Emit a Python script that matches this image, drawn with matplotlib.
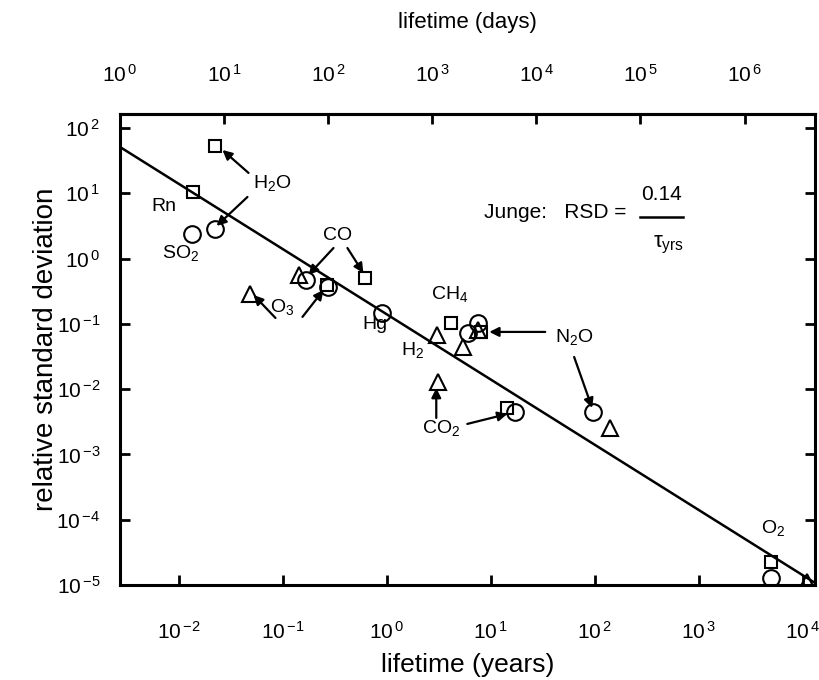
import numpy as np
import matplotlib
matplotlib.use("Agg")
import matplotlib.pyplot as plt

plt.rcParams['font.family'] = ['Liberation Sans', 'DejaVu Sans']
plt.rcParams['mathtext.default'] = 'regular'
plt.rcParams['axes.unicode_minus'] = False

# ---- data (lifetime in years, relative standard deviation) ----
square_tau = [0.0222, 0.0139, 0.624, 0.269, 4.17, 8.09, 14.4, 4910]
square_rsd = [53, 10.5, 0.505, 0.395, 0.103, 0.0752, 0.00515, 2.26e-5]

circle_tau = [0.0136, 0.0226, 0.169, 0.275, 0.908, 7.57, 6.07, 17.1, 96, 4910]
circle_rsd = [2.38, 2.84, 0.47, 0.367, 0.147, 0.103, 0.0727, 0.00448, 0.00448, 1.29e-5]

triangle_tau = [0.049, 0.142, 3.06, 5.43, 7.57, 3.12, 140, 10900]
triangle_rsd = [0.287, 0.561, 0.0676, 0.0443, 0.0807, 0.0129, 0.00255, 1.1e-5]

junge_coef = 0.14  # RSD = 0.14 / tau

# species labels: text, tau, rsd
labels = ['Rn', 'H$_2$O', 'SO$_2$', 'CO', 'O$_3$', 'Hg', 'CH$_4$', 'H$_2$', 'N$_2$O', 'CO$_2$', 'O$_2$']
label_tau = [0.00718, 0.0798, 0.01045, 0.336, 0.0995, 0.778, 3.99, 1.76, 63, 3.34, 5130]
label_rsd = [6.17, 14.4, 1.22, 2.22, 0.1816, 0.0962, 0.287, 0.0398, 0.063, 0.00255, 7.5e-5]

# arrows: (start tau, start rsd) -> (end tau, end rsd)
arrow_start = [(0.047, 20.5), (0.0459, 8.77), (0.3077, 1.45), (0.419, 1.45),
               (0.0853, 0.123), (0.155, 0.1277), (33.3, 0.0752), (63.1, 0.0311),
               (2.99, 0.00362), (5.94, 0.00293)]
arrow_end = [(0.0264, 46), (0.0232, 3.16), (0.177, 0.561), (0.596, 0.601),
             (0.0525, 0.277), (0.247, 0.330), (9.66, 0.0752), (94, 0.00515),
             (2.99, 0.0104), (14.4, 0.00417)]

xticks_years = [1e-2, 1e-1, 1e0, 1e1, 1e2, 1e3, 1e4]
xticks_days = [1e0, 1e1, 1e2, 1e3, 1e4, 1e5, 1e6]
yticks = [1e-5, 1e-4, 1e-3, 1e-2, 1e-1, 1e0, 1e1, 1e2]

days_per_year = 365.25
xmin, xmax = 1 / days_per_year, 1.3e4
ymin, ymax = 1e-5, 10 ** 2.214


def pow_label(v):
    return r'$10^{\,{%d}}$' % int(round(np.log10(v)))


fig = plt.figure(figsize=(8.2, 6.8), dpi=100)
ax = fig.add_axes([120 / 820, 1 - 585 / 680, 695 / 820, 471 / 680])
ax.set_xscale('log')
ax.set_yscale('log')
ax.set_xlim(xmin, xmax)
ax.set_ylim(ymin, ymax)

tau_line = np.array([xmin, xmax])
ax.plot(tau_line, junge_coef / tau_line, color='black', lw=1.8, zorder=2)

ax.plot(square_tau, square_rsd, 's', ms=8.5, mfc='none', mec='black', mew=1.5, zorder=3, clip_on=False)
ax.plot(circle_tau, circle_rsd, 'o', ms=12, mfc='none', mec='black', mew=1.5, zorder=3)
ax.plot(triangle_tau, triangle_rsd, '^', ms=12, mfc='none', mec='black', mew=1.5, zorder=3)

for (x0, y0), (x1, y1) in zip(arrow_start, arrow_end):
    ax.annotate('', xy=(x1, y1), xytext=(x0, y0),
                arrowprops=dict(arrowstyle='-|>', color='black', lw=1.6,
                                mutation_scale=14, shrinkA=0, shrinkB=0))

for txt, x, y in zip(labels, label_tau, label_rsd):
    ax.text(x, y, txt, fontsize=14, ha='center', va='center')

# Junge relation
ax.text(0.524, 0.790, 'Junge:   RSD =', transform=ax.transAxes, fontsize=15, ha='left', va='center')
ax.text(0.779, 0.830, '0.14', transform=ax.transAxes, fontsize=15, ha='center', va='center')
ax.plot([0.748, 0.810], [0.781, 0.781], transform=ax.transAxes, color='black', lw=1.8)
ax.text(0.790, 0.722, r'$\tau_{yrs}$', transform=ax.transAxes, fontsize=16, ha='center', va='center')

ax.set_xticks(xticks_years)
ax.set_xticklabels([pow_label(v) for v in xticks_years])
ax.set_yticks(yticks)
ax.set_yticklabels([pow_label(v) for v in yticks])
ax.minorticks_off()
ax.tick_params(which='major', direction='in', length=7, width=2, labelsize=15,
               top=False, right=True, pad=14)
ax.tick_params(axis='x', pad=26)
for s in ax.spines.values():
    s.set_linewidth(2.2)

sec = ax.secondary_xaxis('top', functions=(lambda x: x * days_per_year, lambda x: x / days_per_year))
sec.set_xticks(xticks_days)
sec.set_xticklabels([pow_label(v) for v in xticks_days])
sec.minorticks_off()
sec.tick_params(which='major', direction='in', length=7, width=2, labelsize=15, pad=20)
sec.spines['top'].set_linewidth(2.2)
sec.set_xlabel('lifetime (days)', fontsize=16, labelpad=26)

ax.set_xlabel('lifetime (years)', fontsize=19, labelpad=7)
ax.set_ylabel('relative standard deviation', fontsize=20, labelpad=-2)

fig.savefig('out.png', dpi=100)
